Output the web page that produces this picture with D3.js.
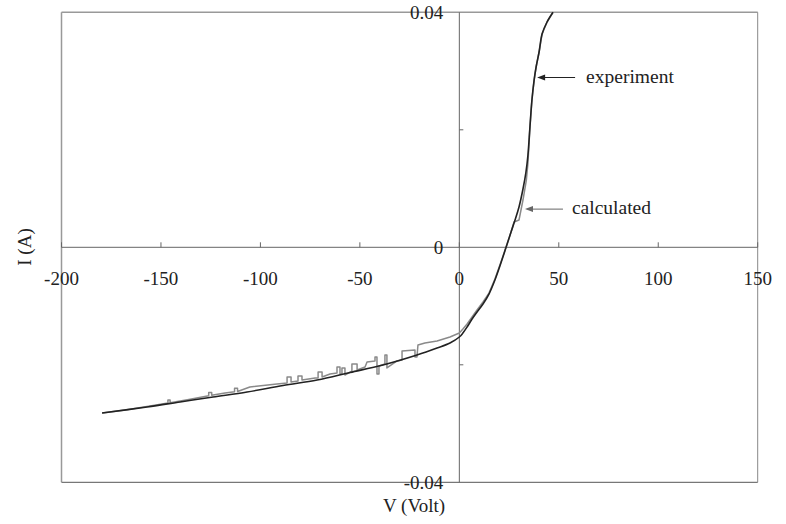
<!DOCTYPE html>
<html>
<head>
<meta charset="utf-8">
<title>I-V curve</title>
<script src="https://cdn.jsdelivr.net/npm/d3@7"></script>
<style>
  body { margin: 0; background: #fff; }
  text { font-family: "Liberation Serif", "Times New Roman", serif; fill: #222; }
  .tick-label { font-size: 19px; }
</style>
</head>
<body>
<script>
// measured curve
var expV = [-179.6, -157.0, -140.4, -123.8, -106.7, -88.6, -71.5, -54.9, -38.4, -21.3, -11.2, -4.7, 0,
  1.8, 3.9, 6.4, 8.9, 11.9, 14.9, 17.9, 20.4, 23.5, 26.0, 28.0, 30.0, 32.0, 33.5, 34.5, 35.5, 36.5,
  37.6, 38.6, 40.1, 41.6, 44.1, 47.1];
var expI = [-0.02820, -0.02718, -0.02633, -0.02548, -0.02463, -0.02352, -0.02259, -0.02131, -0.02003, -0.01833, -0.01714, -0.01629, -0.01527,
  -0.01459, -0.01357, -0.01221, -0.01102, -0.00966, -0.00796, -0.00557, -0.00318, 0, 0.00260, 0.00464, 0.00686, 0.00992, 0.01281, 0.01571, 0.02047, 0.02507,
  0.02847, 0.03069, 0.03324, 0.03631, 0.03835, 0.04];

// calculated curve (step-like noise on the reverse branch)
var calV = [-179.6, -168.0, -155.5, -146.5, -146.5, -145.4, -145.4, -136.0, -126.0, -126.0, -124.5, -124.5,
  -117.8, -113.0, -113.0, -111.5, -111.5, -105.3, -91.7, -86.6, -86.6, -84.6, -84.6,
  -81.1, -81.1, -79.1, -79.1, -72.5, -71.0, -71.0, -69.0, -69.0, -65.0, -61.5, -61.5, -60.0, -60.0,
  -59.0, -59.0, -57.5, -57.5, -54.0, -54.0, -51.4, -51.4, -47.4, -46.4, -42.4, -42.4, -41.4, -41.4,
  -40.4, -40.4, -37.4, -37.4, -36.4, -36.4, -31.3, -28.8, -28.8, -22.3, -22.3, -21.3, -20.8, -17.3,
  -11.2, -4.7, 0, 1.8, 3.9, 6.4, 8.9, 11.9, 14.9, 17.9, 20.4, 23.5, 26.0, 27.5, 30.0, 32.0, 33.7,
  34.5, 35.5, 36.5, 37.6, 38.6, 40.1, 41.6, 44.1, 47.1];
var calI = [-0.02820, -0.02769, -0.02701, -0.02650, -0.02600, -0.02600, -0.02645, -0.02590, -0.02525, -0.02470, -0.02470, -0.02520,
  -0.02480, -0.02460, -0.02400, -0.02400, -0.02455, -0.02378, -0.02327, -0.02310, -0.02208, -0.02208, -0.02293,
  -0.02276, -0.02191, -0.02191, -0.02259, -0.02225, -0.02225, -0.02123, -0.02123, -0.02208, -0.02157, -0.02140, -0.02037, -0.02037, -0.02157,
  -0.02157, -0.02054, -0.02054, -0.02174, -0.02106, -0.01986, -0.01986, -0.02088, -0.02037, -0.01952, -0.01935, -0.01867, -0.01867, -0.02157,
  -0.02157, -0.02020, -0.01986, -0.01833, -0.01833, -0.02054, -0.01935, -0.01918, -0.01765, -0.01748, -0.01867, -0.01867, -0.01663, -0.01629,
  -0.01595, -0.01527, -0.01459, -0.01391, -0.01306, -0.01186, -0.01067, -0.00931, -0.00779, -0.00540, -0.00301, 0, 0.00260, 0.00431, 0.00465, 0.00805, 0.01145,
  0.01435, 0.02047, 0.02507, 0.02847, 0.03069, 0.03324, 0.03631, 0.03835, 0.04];

var xTicks = [-200, -150, -100, -50, 0, 50, 100, 150];
var yLabels = [0.04, 0, -0.04];
var yMinor = [0.02, -0.02];

var width = 786, height = 524;

var svg = d3.select("body").append("svg")
    .attr("width", width)
    .attr("height", height);

svg.append("rect").attr("width", width).attr("height", height).attr("fill", "#fff");

var x = d3.scaleLinear().domain([-200, 150]).range([61.5, 757.7]);
var y = d3.scaleLinear().domain([-0.04, 0.04]).range([482.3, 12.3]);

// frame
svg.append("line").attr("x1", x(-200)).attr("x2", x(150)).attr("y1", y(0.04)).attr("y2", y(0.04))
  .attr("stroke", "#999").attr("stroke-width", 1.5);
svg.append("line").attr("x1", x(-200)).attr("x2", x(-200)).attr("y1", y(0.04)).attr("y2", y(-0.04))
  .attr("stroke", "#999").attr("stroke-width", 1.5);
svg.append("line").attr("x1", x(150)).attr("x2", x(150)).attr("y1", y(0.04)).attr("y2", y(-0.04))
  .attr("stroke", "#888").attr("stroke-width", 1);
svg.append("line").attr("x1", x(-200)).attr("x2", x(150)).attr("y1", y(-0.04)).attr("y2", y(-0.04))
  .attr("stroke", "#777").attr("stroke-width", 1.2);

// axes through the origin
svg.append("line").attr("x1", x(-200)).attr("x2", x(150)).attr("y1", y(0)).attr("y2", y(0))
  .attr("stroke", "#666").attr("stroke-width", 1);
svg.append("line").attr("x1", x(0)).attr("x2", x(0)).attr("y1", y(0.04)).attr("y2", y(-0.04))
  .attr("stroke", "#666").attr("stroke-width", 1);

// small tick marks
svg.selectAll(".xt").data(xTicks).enter().append("line")
  .attr("x1", d => x(d)).attr("x2", d => x(d))
  .attr("y1", y(0)).attr("y2", y(0) - 5)
  .attr("stroke", "#666");
svg.selectAll(".yt").data(yMinor).enter().append("line")
  .attr("x1", x(0)).attr("x2", x(0) + 4)
  .attr("y1", d => y(d)).attr("y2", d => y(d))
  .attr("stroke", "#666");

// tick labels
svg.selectAll(".xl").data(xTicks).enter().append("text")
  .attr("class", "tick-label")
  .attr("x", d => x(d)).attr("y", y(0) + 38)
  .attr("text-anchor", "middle")
  .text(d => d);
svg.selectAll(".yl").data(yLabels).enter().append("text")
  .attr("class", "tick-label")
  .attr("x", x(0) - 16).attr("y", d => y(d) + 6.5)
  .attr("text-anchor", "end")
  .text(d => d === 0 ? "0" : d.toFixed(2));

// axis titles
svg.append("text").attr("x", 414).attr("y", 512).attr("text-anchor", "middle")
  .style("font-size", "19px").text("V (Volt)");
svg.append("text").attr("transform", "translate(31,247) rotate(-90)").attr("text-anchor", "middle")
  .style("font-size", "19px").text("I (A)");

// curves
var calc = calV.map((v, i) => [v, calI[i]]);
var expt = expV.map((v, i) => [v, expI[i]]);

svg.append("path").datum(calc)
  .attr("d", d3.line().x(d => x(d[0])).y(d => y(d[1])))
  .attr("fill", "none").attr("stroke", "#8a8a8a").attr("stroke-width", 1.5)
  .attr("stroke-linejoin", "round");
svg.append("path").datum(expt)
  .attr("d", d3.line().x(d => x(d[0])).y(d => y(d[1])).curve(d3.curveCatmullRom))
  .attr("fill", "none").attr("stroke", "#222").attr("stroke-width", 1.6);

// annotations with arrows
function arrow(tipV, tipI, len, color) {
  var tx = x(tipV), ty = y(tipI);
  svg.append("line").attr("x1", tx + 4).attr("x2", tx + len).attr("y1", ty).attr("y2", ty)
    .attr("stroke", color).attr("stroke-width", 1);
  svg.append("path")
    .attr("d", "M" + tx + "," + ty + "L" + (tx + 8) + "," + (ty - 3) + "L" + (tx + 8) + "," + (ty + 3) + "Z")
    .attr("fill", color);
}
arrow(39.1, 0.0289, 38, "#222");
svg.append("text").attr("x", x(39.1) + 49).attr("y", y(0.0289) + 5.5)
  .style("font-size", "19.5px").text("experiment");

arrow(33.0, 0.0065, 38, "#666");
svg.append("text").attr("x", x(33.0) + 47).attr("y", y(0.0065) + 5)
  .style("font-size", "19.5px").text("calculated");
</script>
</body>
</html>
